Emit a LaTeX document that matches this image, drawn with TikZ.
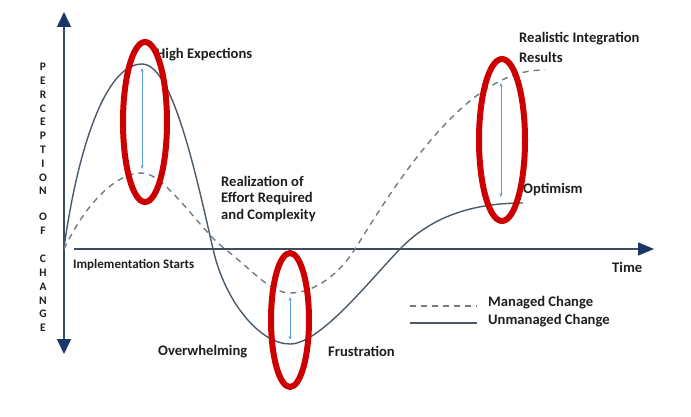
\documentclass[tikz,border=0pt]{standalone}
\usepackage{fontspec}
\setmainfont{Carlito}
\usetikzlibrary{arrows.meta,shapes.geometric}
\definecolor{axiscol}{RGB}{60,75,95}
\definecolor{headcol}{RGB}{25,55,100}
\definecolor{solidcol}{RGB}{75,90,105}
\definecolor{dashcol}{RGB}{115,122,130}
\definecolor{gapcol}{RGB}{91,155,213}
\definecolor{ringcol}{RGB}{204,0,0}
\definecolor{txtcol}{RGB}{30,30,30}
\tikzset{navytip/.tip={Triangle[length=15pt,width=14pt,color=headcol]}}
\begin{document}
\begin{tikzpicture}[x=1pt,y=-1pt,
  lbl/.style={font=\bfseries\fontsize{14.6}{16}\selectfont, text=txtcol, inner sep=0pt, anchor=west},
  smalllbl/.style={lbl, font=\bfseries\fontsize{13}{15}\selectfont},
  vlet/.style={font=\bfseries\fontsize{11.5}{12}\selectfont, text=txtcol, inner sep=0pt},
  axisline/.style={draw=axiscol, line width=1.5pt},
  unmanaged/.style={draw=solidcol, line width=1.4pt},
  managed/.style={draw=dashcol, line width=1.4pt, dash pattern=on 6pt off 5pt},
  gap/.style={draw=gapcol, line width=0.8pt, {Stealth[length=4pt,width=3pt]}-{Stealth[length=4pt,width=3pt]}},
  ring/.style={draw=ringcol, line width=6pt}
]
\useasboundingbox (0,0) rectangle (691,417);
% axes
\coordinate (o) at (64,248);
\coordinate (ytop) at (64,12);
\coordinate (ybot) at (64,354);
\coordinate (xl) at (74,249);
\coordinate (xr) at (654,249);
\draw[axisline,-{navytip}] (o) -- (ytop);
\draw[axisline,-{navytip}] (o) -- (ybot);
\draw[axisline,-{Triangle[length=16pt,width=13pt,color=headcol]}] (xl) -- (xr);
% vertical letters
\foreach \l [count=\i from 0] in {P,E,R,C,E,P,T,I,O,N}
  \node[vlet] (p\i) at (43,{67+13.8*\i}) {\l};
\node[vlet] (of1) at (43,217) {O};
\node[vlet] (of2) at (43,231) {F};
\foreach \l [count=\i from 0] in {C,H,A,N,G,E}
  \node[vlet] (c\i) at (43,{259+13.8*\i}) {\l};
% unmanaged (solid) curve
\coordinate (a0) at (64,248);
\coordinate (a1) at (142,64);
\coordinate (a2) at (213,249);
\coordinate (a3) at (290,344);
\coordinate (a4) at (400,249);
\coordinate (a5) at (523,203);
\draw[unmanaged] (a0) .. controls (76,160) and (103,64) .. (a1)
  .. controls (172,64) and (195,170) .. (a2)
  .. controls (225,302) and (260,344) .. (a3)
  .. controls (320,344) and (370,280) .. (a4)
  .. controls (430,218) and (470,203) .. (a5);
% managed (dashed) curve
\coordinate (b0) at (64,249);
\coordinate (b1) at (142,173);
\coordinate (b2) at (225,249);
\coordinate (b3) at (290,293);
\coordinate (b4) at (355,249);
\coordinate (b5) at (502,80);
\coordinate (b6) at (545,70);
\draw[managed] (b0) .. controls (85,205) and (115,173) .. (b1)
  .. controls (165,173) and (200,230) .. (b2)
  .. controls (250,268) and (270,293) .. (b3)
  .. controls (315,293) and (340,273) .. (b4)
  .. controls (385,201) and (440,110) .. (b5)
  .. controls (516,73) and (530,70) .. (b6);
% gap arrows
\coordinate (g1t) at (142,68);
\coordinate (g1b) at (142,169);
\coordinate (g2t) at (290,297);
\coordinate (g2b) at (290,340);
\coordinate (g3t) at (501,83);
\coordinate (g3b) at (501,197);
\draw[gap] (g1t) -- (g1b);
\draw[gap] (g2t) -- (g2b);
\draw[gap] (g3t) -- (g3b);
% labels
\node[lbl] (high) at (156,55) {High Expections};
\node[lbl] (real1) at (221,181) {Realization of};
\node[lbl] (real2) at (221,199) {Effort Required};
\node[lbl] (real3) at (221,216) {and Complexity};
\node[smalllbl] (impl) at (73,265) {Implementation Starts};
\node[lbl] (over) at (158,352) {Overwhelming};
\node[lbl] (frus) at (328,351) {Frustration};
\node[lbl] (ri1) at (519,39) {Realistic Integration};
\node[lbl] (ri2) at (519,57) {Results};
\node[lbl] (opt) at (523,190) {Optimism};
\node[lbl] (time) at (612,267) {Time};
% legend
\coordinate (l1a) at (410,306);
\coordinate (l1b) at (477,306);
\coordinate (l2a) at (410,323);
\coordinate (l2b) at (477,323);
\draw[managed] (l1a) -- (l1b);
\draw[unmanaged] (l2a) -- (l2b);
\node[lbl] (lm) at (488,303) {Managed Change};
\node[lbl] (lu) at (488,321) {Unmanaged Change};
% red rings
\node[ring, ellipse, minimum width=44pt, minimum height=160pt, inner sep=0pt] (r1) at (145,122) {};
\node[ring, ellipse, minimum width=38pt, minimum height=134pt, inner sep=0pt] (r2) at (290,320) {};
\node[ring, ellipse, minimum width=46pt, minimum height=162pt, inner sep=0pt] (r3) at (502,140) {};
\end{tikzpicture}
\end{document}
